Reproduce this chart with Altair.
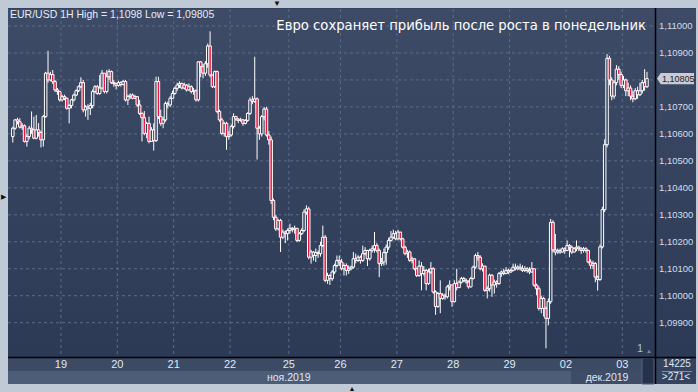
import altair as alt
import pandas as pd

# ---------------- data ----------------
first_open = 1.10590
closes = [
 1.10621,1.10652,1.10645,1.10625,1.10630,1.10572,1.10590,1.10621,1.10615,1.10584,
 1.10615,1.10605,1.10578,1.10664,1.10825,1.10800,1.10820,1.10794,1.10763,1.10757,
 1.10726,1.10738,1.10732,1.10695,1.10705,1.10726,1.10744,1.10760,1.10775,1.10790,
 1.10689,1.10700,1.10695,1.10705,1.10757,1.10775,1.10750,1.10770,1.10825,1.10757,
 1.10812,1.10831,1.10790,1.10787,1.10780,1.10790,1.10783,1.10794,1.10726,1.10738,
 1.10744,1.10732,1.10738,1.10707,1.10676,1.10660,1.10602,1.10639,1.10572,1.10615,
 1.10575,1.10794,1.10664,1.10639,1.10652,1.10713,1.10707,1.10732,1.10750,1.10769,
 1.10781,1.10787,1.10770,1.10781,1.10763,1.10775,1.10757,1.10760,1.10726,1.10867,
 1.10850,1.10825,1.10860,1.10926,1.10818,1.10775,1.10831,1.10683,1.10652,1.10602,
 1.10639,1.10590,1.10596,1.10627,1.10664,1.10655,1.10650,1.10652,1.10639,1.10650,
 1.10676,1.10726,1.10720,1.10730,1.10621,1.10600,1.10664,1.10692,1.10596,1.10578,
 1.10353,1.10291,1.10248,1.10279,1.10217,1.10236,1.10230,1.10242,1.10250,1.10245,
 1.10250,1.10205,1.10230,1.10242,1.10310,1.10322,1.10143,1.10162,1.10149,1.10160,
 1.10156,1.10186,1.10217,1.10057,1.10075,1.10063,1.10088,1.10112,1.10131,1.10125,
 1.10100,1.10112,1.10094,1.10100,1.10106,1.10137,1.10131,1.10143,1.10131,1.10156,
 1.10168,1.10137,1.10168,1.10174,1.10186,1.10168,1.10119,1.10125,1.10160,1.10180,
 1.10205,1.10217,1.10230,1.10211,1.10236,1.10211,1.10180,1.10156,1.10162,1.10131,
 1.10137,1.10100,1.10075,1.10110,1.10082,1.10094,1.10045,1.10088,1.10100,1.10014,
 1.09960,1.10008,1.09990,1.10002,1.09996,1.10033,1.10040,1.09978,1.10045,1.10030,
 1.10050,1.10064,1.10057,1.10051,1.10033,1.10064,1.10106,1.10149,1.10143,1.10100,
 1.10110,1.10020,1.10026,1.10076,1.10040,1.10051,1.10045,1.10082,1.10088,1.10082,
 1.10094,1.10088,1.10094,1.10106,1.10100,1.10106,1.10100,1.10094,1.10100,1.10094,
 1.10088,1.10100,1.10039,1.10026,1.09953,1.09990,1.09953,1.09916,1.09978,1.10272,
 1.10170,1.10162,1.10168,1.10162,1.10174,1.10168,1.10186,1.10180,1.10162,1.10174,
 1.10180,1.10174,1.10168,1.10174,1.10168,1.10125,1.10113,1.10120,1.10069,1.10060,
 1.10181,1.10319,1.10560,1.10880,1.10800,1.10740,1.10790,1.10840,1.10820,1.10780,
 1.10800,1.10760,1.10770,1.10740,1.10730,1.10760,1.10745,1.10760,1.10790,1.10775,
 1.10805]
highs = [
 1.10627,1.10655,1.10660,1.10658,1.10640,1.10635,1.10600,1.10630,1.10683,1.10664,
 1.10670,1.10640,1.10610,1.10670,1.10830,1.10908,1.10830,1.10837,1.10800,1.10770,
 1.10760,1.10745,1.10745,1.10735,1.10710,1.10730,1.10750,1.10765,1.10780,1.10810,
 1.10800,1.10707,1.10710,1.10715,1.10765,1.10781,1.10781,1.10818,1.10837,1.10818,
 1.10837,1.10840,1.10835,1.10800,1.10790,1.10797,1.10795,1.10800,1.10800,1.10745,
 1.10750,1.10750,1.10745,1.10740,1.10726,1.10680,1.10685,1.10645,1.10664,1.10625,
 1.10639,1.10812,1.10812,1.10690,1.10664,1.10720,1.10720,1.10740,1.10760,1.10775,
 1.10790,1.10795,1.10790,1.10790,1.10785,1.10787,1.10780,1.10770,1.10765,1.10870,
 1.10870,1.10860,1.10870,1.10935,1.10980,1.10820,1.10835,1.10835,1.10690,1.10660,
 1.10645,1.10645,1.10610,1.10635,1.10676,1.10667,1.10658,1.10660,1.10655,1.10655,
 1.10680,1.10735,1.10740,1.10886,1.10735,1.10630,1.10670,1.10700,1.10700,1.10610,
 1.10590,1.10360,1.10300,1.10285,1.10285,1.10245,1.10242,1.10250,1.10267,1.10255,
 1.10260,1.10250,1.10236,1.10250,1.10320,1.10335,1.10330,1.10170,1.10165,1.10175,
 1.10168,1.10200,1.10260,1.10225,1.10085,1.10080,1.10095,1.10119,1.10149,1.10149,
 1.10137,1.10120,1.10120,1.10112,1.10112,1.10162,1.10156,1.10150,1.10149,1.10186,
 1.10180,1.10170,1.10175,1.10186,1.10236,1.10195,1.10175,1.10140,1.10175,1.10190,
 1.10215,1.10240,1.10245,1.10240,1.10245,1.10236,1.10215,1.10186,1.10170,1.10168,
 1.10145,1.10137,1.10105,1.10131,1.10125,1.10110,1.10100,1.10100,1.10125,1.10106,
 1.10020,1.10014,1.10057,1.10010,1.10008,1.10040,1.10057,1.10040,1.10057,1.10100,
 1.10057,1.10070,1.10070,1.10064,1.10057,1.10070,1.10112,1.10156,1.10162,1.10150,
 1.10120,1.10110,1.10035,1.10082,1.10080,1.10060,1.10057,1.10088,1.10094,1.10100,
 1.10106,1.10100,1.10100,1.10119,1.10119,1.10113,1.10119,1.10113,1.10110,1.10106,
 1.10106,1.10125,1.10100,1.10045,1.10035,1.10000,1.09996,1.09960,1.09990,1.10285,
 1.10280,1.10229,1.10175,1.10175,1.10180,1.10180,1.10205,1.10192,1.10186,1.10180,
 1.10205,1.10186,1.10180,1.10181,1.10180,1.10170,1.10135,1.10130,1.10125,1.10075,
 1.10190,1.10330,1.10580,1.10896,1.10890,1.10810,1.10800,1.10855,1.10851,1.10830,
 1.10815,1.10805,1.10790,1.10780,1.10760,1.10770,1.10775,1.10790,1.10800,1.10840,
 1.10830]
lows = [
 1.10568,1.10615,1.10635,1.10620,1.10615,1.10568,1.10553,1.10580,1.10600,1.10580,
 1.10580,1.10590,1.10550,1.10553,1.10660,1.10790,1.10795,1.10785,1.10755,1.10745,
 1.10720,1.10720,1.10725,1.10690,1.10639,1.10695,1.10720,1.10740,1.10755,1.10770,
 1.10680,1.10664,1.10652,1.10670,1.10695,1.10750,1.10745,1.10745,1.10765,1.10750,
 1.10750,1.10800,1.10785,1.10775,1.10765,1.10775,1.10775,1.10780,1.10720,1.10707,
 1.10730,1.10728,1.10730,1.10700,1.10670,1.10572,1.10595,1.10584,1.10565,1.10570,
 1.10538,1.10570,1.10655,1.10630,1.10621,1.10645,1.10695,1.10700,1.10730,1.10745,
 1.10760,1.10770,1.10765,1.10765,1.10757,1.10760,1.10750,1.10745,1.10720,1.10720,
 1.10810,1.10806,1.10815,1.10845,1.10810,1.10770,1.10770,1.10676,1.10645,1.10595,
 1.10590,1.10541,1.10578,1.10590,1.10620,1.10648,1.10640,1.10645,1.10630,1.10635,
 1.10645,1.10670,1.10710,1.10715,1.10505,1.10578,1.10590,1.10650,1.10590,1.10560,
 1.10340,1.10280,1.10240,1.10242,1.10162,1.10210,1.10195,1.10205,1.10230,1.10235,
 1.10230,1.10199,1.10200,1.10225,1.10236,1.10300,1.10135,1.10119,1.10130,1.10125,
 1.10140,1.10145,1.10180,1.10050,1.10044,1.10040,1.10055,1.10080,1.10105,1.10110,
 1.10094,1.10075,1.10075,1.10081,1.10094,1.10100,1.10120,1.10125,1.10119,1.10125,
 1.10150,1.10110,1.10130,1.10160,1.10160,1.10160,1.10069,1.10110,1.10112,1.10115,
 1.10170,1.10200,1.10210,1.10205,1.10205,1.10205,1.10175,1.10150,1.10140,1.10125,
 1.10120,1.10094,1.10069,1.10070,1.10020,1.10075,1.10020,1.10040,1.10080,1.10008,
 1.09929,1.09955,1.09935,1.09985,1.09985,1.09990,1.10020,1.09959,1.09975,1.10020,
 1.10030,1.10045,1.10050,1.10045,1.10026,1.10030,1.10060,1.10100,1.10130,1.10094,
 1.10090,1.10014,1.09990,1.10015,1.09996,1.10008,1.10030,1.10040,1.10070,1.10076,
 1.10080,1.10080,1.10085,1.10090,1.10094,1.10094,1.10094,1.10088,1.10088,1.10085,
 1.10080,1.10085,1.10033,1.10002,1.09945,1.09935,1.09923,1.09805,1.09890,1.09970,
 1.10160,1.10150,1.10155,1.10155,1.10160,1.10155,1.10165,1.10143,1.10155,1.10160,
 1.10165,1.10165,1.10155,1.10160,1.10160,1.10120,1.10100,1.10100,1.10050,1.10019,
 1.10055,1.10175,1.10310,1.10550,1.10780,1.10725,1.10730,1.10780,1.10800,1.10770,
 1.10770,1.10740,1.10740,1.10725,1.10717,1.10725,1.10730,1.10740,1.10750,1.10760,
 1.10770]

y_ticks = [1.099, 1.100, 1.101, 1.102, 1.103, 1.104, 1.105, 1.106, 1.107, 1.108, 1.109, 1.110]
y_labels = ["1,09900", "1,10000", "1,10100", "1,10200", "1,10300", "1,10400",
            "1,10500", "1,10600", "1,10700", "1,10800", "1,10900", "1,11000"]
day_starts = [21, 45, 69, 93, 118, 140, 164, 188, 212, 236, 260]
day_labels = ["19", "20", "21", "22", "25", "26", "27", "28", "29", "02", "03"]
month_labels = ["ноя.2019", "дек.2019"]
month_first_bar = [0, 236]
month_last_bar = [235, 270]
last_price = 1.10805
last_label = "1,10805"
header_text = "EUR/USD 1H High = 1,1098 Low = 1,09805"
title_text = "Евро сохраняет прибыль после роста в понедельник"
bars_text = ">271<"
volume_text = "14225"

# ---------------- layout ----------------
W, H = 698, 392
X0, DX = 7.9, 2.383           # pixel of first bar centre, pixels per bar
Y_REF, P_REF, PPX = 26.0, 1.11, 26973.0
xscale = alt.Scale(domain=[-X0 / DX, (W - X0) / DX], range=[0, W], nice=False, zero=False)
yscale = alt.Scale(domain=[P_REF - (H - Y_REF) / PPX, P_REF + Y_REF / PPX], range=[H, 0],
                   nice=False, zero=False)

FONT = "Liberation Sans"
RED = "#e8173f"
UPFILL = "#33415c"
TXT = "#dfe8f5"

opens = [first_open] + closes[:-1]
df = pd.DataFrame({"i": list(range(len(closes))), "open": opens, "high": highs,
                   "low": lows, "close": closes})
one = pd.DataFrame({"k": [0]})
ydf = pd.DataFrame({"p": y_ticks, "label": y_labels})
ydf_vis = ydf[(ydf["p"] - last_price).abs() > 0.0004]   # the one under the price tag is hidden
ddf = pd.DataFrame({"start": day_starts, "label": day_labels})
ddf["pos"] = ddf["start"] - 0.5
mdf = pd.DataFrame({"label": month_labels, "a": month_first_bar, "b": month_last_bar})
mdf["pos"] = (mdf["a"] + mdf["b"]) / 2
pdf = pd.DataFrame({"p": [last_price], "label": [last_label]})

X = lambda f: alt.X(f, scale=xscale, axis=None)
Y = lambda f: alt.Y(f, scale=yscale, axis=None)


def box(x1, x2, y1, y2, **kw):
    return alt.Chart(one).mark_rect(**kw).encode(
        x=alt.value(x1), x2=alt.value(x2), y=alt.value(y1), y2=alt.value(y2))


def grad(c1, c2):
    return {"gradient": "linear", "x1": 0, "x2": 0, "y1": 0, "y2": 1,
            "stops": [{"offset": 0, "color": c1}, {"offset": 1, "color": c2}]}


def label(txt, x, y, font=FONT, **kw):
    return alt.Chart(one).mark_text(text=txt, font=font, **kw).encode(
        x=alt.value(x), y=alt.value(y))


layers = [
    box(8, 696, 8, 384, color="#34425d"),
    box(8, 655, 9, 357, color=grad("#3e4b66", "#2c3a56")),
    box(656, 696, 9, 357, color=grad("#3e4b66", "#2c3a56")),
    box(8, 655, 358, 371, color="#3c4a64"),
    box(8, 571, 371, 384, color="#4d5c77"),
    box(571, 642, 371, 384, color="#3e4c67"),
    box(642, 654, 358, 384, color="#26324b", stroke="#55647e", strokeWidth=1),
    box(656, 696, 358, 384, color="#35435e"),
    # gridlines
    alt.Chart(ydf).mark_rule(color="#5c6b87", strokeDash=[3, 3], strokeWidth=1).encode(
        y=Y("p:Q"), x=alt.value(8), x2=alt.value(655)),
    alt.Chart(ddf).mark_rule(color="#5c6b87", strokeDash=[3, 3], strokeWidth=1).encode(
        x=X("pos:Q"), y=alt.value(9), y2=alt.value(357)),
    # separators
    alt.Chart(one).mark_rule(color="#000000", strokeWidth=1.5).encode(
        x=alt.value(655.5), y=alt.value(8), y2=alt.value(384)),
    alt.Chart(one).mark_rule(color="#000000", strokeWidth=1.5).encode(
        y=alt.value(357.5), x=alt.value(8), x2=alt.value(696)),
    alt.Chart(one).mark_rule(color="#8090a8", strokeWidth=1).encode(
        y=alt.value(371.5), x=alt.value(662), x2=alt.value(692)),
    # candles
    alt.Chart(df).mark_rule(color="white", strokeWidth=1).encode(
        x=X("i:Q"), y=Y("low:Q"), y2="high:Q"),
    alt.Chart(df).mark_bar(size=2.5, stroke="white", strokeWidth=1).encode(
        x=X("i:Q"), y=Y("open:Q"), y2="close:Q",
        fill=alt.condition("datum.close < datum.open", alt.value(RED), alt.value(UPFILL))),
    # axis labels
    alt.Chart(ydf_vis).mark_text(align="left", baseline="middle", font=FONT, fontSize=9.5,
                                 color="#d0ddef").encode(
        x=alt.value(659), y=Y("p:Q"), text="label:N"),
    alt.Chart(ddf).mark_text(align="center", baseline="alphabetic", font=FONT, fontSize=11,
                             color=TXT).encode(
        x=X("pos:Q"), y=alt.value(368), text="label:N"),
    alt.Chart(mdf).mark_text(align="center", baseline="alphabetic", font=FONT, fontSize=10.5,
                             color=TXT).encode(
        x=X("pos:Q"), y=alt.value(381), text="label:N"),
    # last price tag
    alt.Chart(pdf).mark_point(shape="M-1,0L-0.8,-0.3L1,-0.3L1,0.3L-0.8,0.3Z", size=1369,
                              filled=True, color="#c9cdd3", opacity=1).encode(
        x=alt.value(675.5), y=Y("p:Q")),
    alt.Chart(pdf).mark_text(align="left", baseline="middle", font=FONT, fontSize=9,
                             color="#1c2333").encode(
        x=alt.value(662), y=Y("p:Q"), text="label:N"),
    # texts
    label(header_text, 10, 18, align="left", baseline="alphabetic", fontSize=10.5, color="#e4ecf6"),
    label(title_text, 646, 30, font="DejaVu Sans", align="right", baseline="alphabetic",
          fontSize=13.2, color="#ffffff"),
    label(volume_text, 677, 367, align="center", baseline="alphabetic", fontSize=10, color=TXT),
    label(bars_text, 676, 380, align="center", baseline="alphabetic", fontSize=10, color=TXT),
    label("1", 640, 352, align="center", baseline="alphabetic", fontSize=11, color="#9cc4ec"),
    label("▲", 649, 353, align="center", baseline="alphabetic", fontSize=6, color="#7c8aa2"),
    label("▼", 277, 6, align="center", baseline="alphabetic", fontSize=8, color="#111111"),
    label("▶", 3, 199, align="center", baseline="alphabetic", fontSize=7, color="#111111"),
    label("▲", 352, 391, align="center", baseline="alphabetic", fontSize=7, color="#111111"),
]

chart = alt.layer(*layers).properties(
    width=W, height=H, padding=0,
    autosize=alt.AutoSizeParams(type="none"),
    background="#c0cad7",
).configure_view(stroke=None)

chart.save("out.html", embed_options={"renderer": "svg", "actions": False})
